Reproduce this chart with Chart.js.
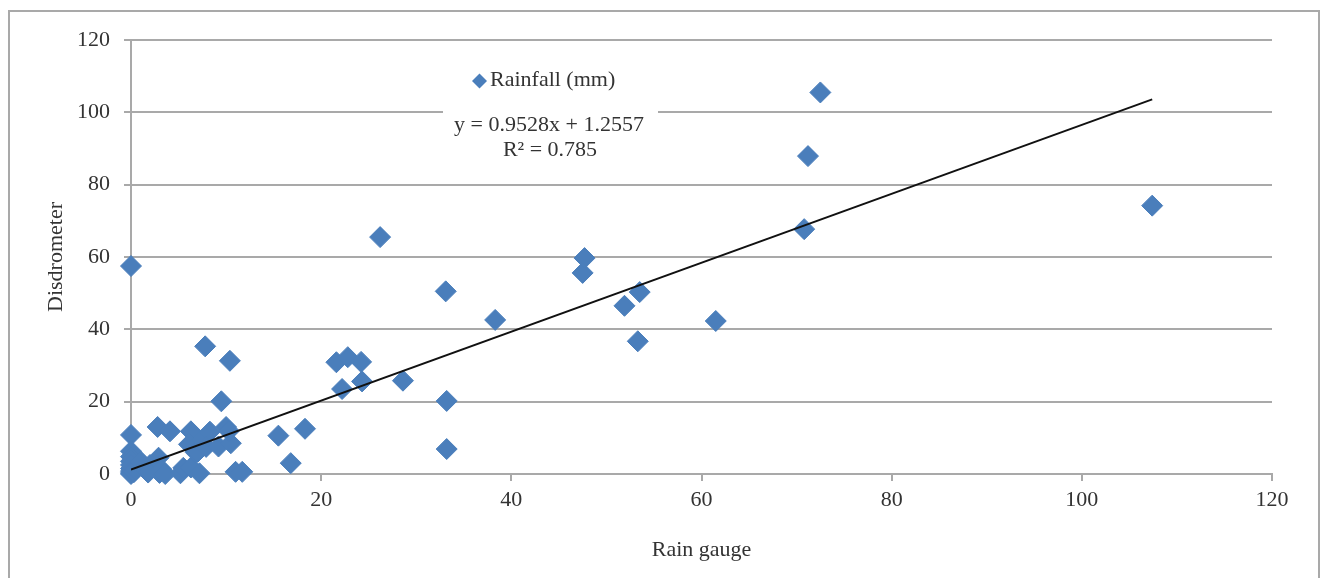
<!DOCTYPE html>
<html>
<head>
<meta charset="utf-8">
<title>Rain gauge vs Disdrometer</title>
<script src="https://cdn.jsdelivr.net/npm/chart.js@4.4.0/dist/chart.umd.min.js"></script>
<style>
  html, body { margin: 0; padding: 0; background: #fff; }
  #wrap { width: 1325px; height: 578px; }
</style>
</head>
<body>
<div id="wrap"><canvas id="chart" width="1325" height="578"></canvas></div>
<script>
// valores (Rain gauge x Disdrometer)
const rainGauge = [
  0, 0, 0, 0, 0, 0, 0, 0, 0, 0,
  0.3, 0.5, 1.0, 2.0, 1.6, 1.8, 2.8, 4.1, 2.9, 3.2,
  3.0, 3.6, 5.2, 5.5, 6.3, 6.3, 6.1, 6.8, 7.0, 7.5,
  7.2, 7.8, 8.3, 7.9, 9.2, 9.5, 10.0, 10.4, 10.5, 10.3,
  11.0, 11.7, 15.5, 16.8, 18.3, 21.6, 22.2, 22.8, 24.2, 24.3,
  26.2, 28.6, 33.1, 33.2, 33.2, 38.3, 47.5, 47.7, 51.9, 53.5,
  53.3, 61.5, 70.8, 71.2, 72.5, 107.4
];
const disdrometer = [
  57.5, 10.8, 6.3, 4.8, 3.5, 2.5, 1.5, 0.8, 0.3, 0,
  0.5, 1.2, 3.5, 2.5, 1.0, 0.4, 13.0, 11.8, 4.5, 1.3,
  0.3, 0, 0.2, 1.7, 1.8, 11.8, 8.2, 6.0, 6.1, 9.4,
  0.2, 35.3, 11.7, 7.5, 7.6, 20.1, 13.0, 31.3, 8.5, 11.9,
  0.6, 0.6, 10.6, 3.0, 12.5, 30.9, 23.5, 32.3, 31.0, 25.6,
  65.5, 25.8, 50.5, 20.2, 6.9, 42.6, 55.6, 59.7, 46.5, 50.3,
  36.7, 42.3, 67.7, 87.9, 105.5, 74.2
];
// linha de tendência (regressão linear do Excel)
const trendSlope = 0.9528;
const trendIntercept = 1.2557;
const trendR2 = 0.785;
const trendRange = [0, 107.4];
const axisTicks = [0, 20, 40, 60, 80, 100, 120];

const serif = '"Liberation Serif", "Times New Roman", serif';
const gridColor = '#a9a9a9';
const textColor = '#333333';
const markerColor = '#4a7ebb';

const scatterPoints = rainGauge.map((x, i) => ({ x: x, y: disdrometer[i] }));
const trendPoints = trendRange.map(x => ({ x: x, y: trendSlope * x + trendIntercept }));

// moldura, legenda e equação
const decorPlugin = {
  id: 'decor',
  afterDraw(chart) {
    const ctx = chart.ctx;
    ctx.save();
    ctx.strokeStyle = gridColor;
    ctx.lineWidth = 2;
    ctx.strokeRect(9, 11, 1310, 575);

    // legenda
    ctx.fillStyle = markerColor;
    const lx = 479.5, ly = 81, r = 7.5;
    ctx.beginPath();
    ctx.moveTo(lx, ly - r);
    ctx.lineTo(lx + r, ly);
    ctx.lineTo(lx, ly + r);
    ctx.lineTo(lx - r, ly);
    ctx.closePath();
    ctx.fill();
    ctx.font = '22px ' + serif;
    ctx.fillStyle = textColor;
    ctx.textAlign = 'left';
    ctx.textBaseline = 'middle';
    ctx.fillText('Rainfall (mm)', 490, 80);

    // equação da tendência
    ctx.fillStyle = '#ffffff';
    ctx.fillRect(443, 109, 215, 54);
    ctx.fillStyle = textColor;
    ctx.textAlign = 'center';
    ctx.fillText('y = ' + trendSlope + 'x + ' + trendIntercept, 549, 125);
    ctx.fillText('R\u00b2 = ' + trendR2, 550, 150);
    ctx.restore();
  }
};

new Chart(document.getElementById('chart'), {
  type: 'scatter',
  data: {
    datasets: [
      {
        type: 'line',
        label: 'Linear (Rainfall (mm))',
        data: trendPoints,
        borderColor: '#111111',
        borderWidth: 2,
        pointRadius: 0,
        fill: false,
        order: 0
      },
      {
        label: 'Rainfall (mm)',
        data: scatterPoints,
        pointStyle: 'rectRot',
        pointRadius: 10.5,
        pointHoverRadius: 10.5,
        backgroundColor: markerColor,
        borderColor: markerColor,
        borderWidth: 1,
        clip: false,
        order: 1
      }
    ]
  },
  options: {
    responsive: false,
    animation: false,
    layout: {
      padding: { left: 0, top: 40, right: 53, bottom: 0 }
    },
    plugins: {
      legend: { display: false },
      tooltip: { enabled: false }
    },
    scales: {
      x: {
        type: 'linear',
        min: 0,
        max: 120,
        afterFit(scale) { scale.height = 104; },
        afterBuildTicks(scale) { scale.ticks = axisTicks.map(v => ({ value: v })); },
        ticks: {
          color: textColor,
          padding: 6,
          maxRotation: 0,
          font: { family: serif, size: 22 }
        },
        grid: {
          drawOnChartArea: false,
          drawTicks: true,
          tickLength: 7,
          color: gridColor,
          lineWidth: 2
        },
        border: { color: gridColor, width: 2 },
        title: {
          display: true,
          text: 'Rain gauge',
          color: textColor,
          font: { family: serif, size: 22 },
          padding: { top: 0, bottom: 15 }
        }
      },
      y: {
        type: 'linear',
        min: 0,
        max: 120,
        afterFit(scale) { scale.width = 131; },
        afterBuildTicks(scale) { scale.ticks = axisTicks.map(v => ({ value: v })); },
        ticks: {
          color: textColor,
          padding: 14,
          font: { family: serif, size: 22 }
        },
        grid: {
          drawTicks: true,
          tickLength: 7,
          color: gridColor,
          lineWidth: 2
        },
        border: { color: gridColor, width: 2 },
        title: {
          display: true,
          text: 'Disdrometer',
          color: textColor,
          font: { family: serif, size: 22 },
          padding: { top: 43, bottom: 0 }
        }
      }
    }
  },
  plugins: [decorPlugin]
});
</script>
</body>
</html>
